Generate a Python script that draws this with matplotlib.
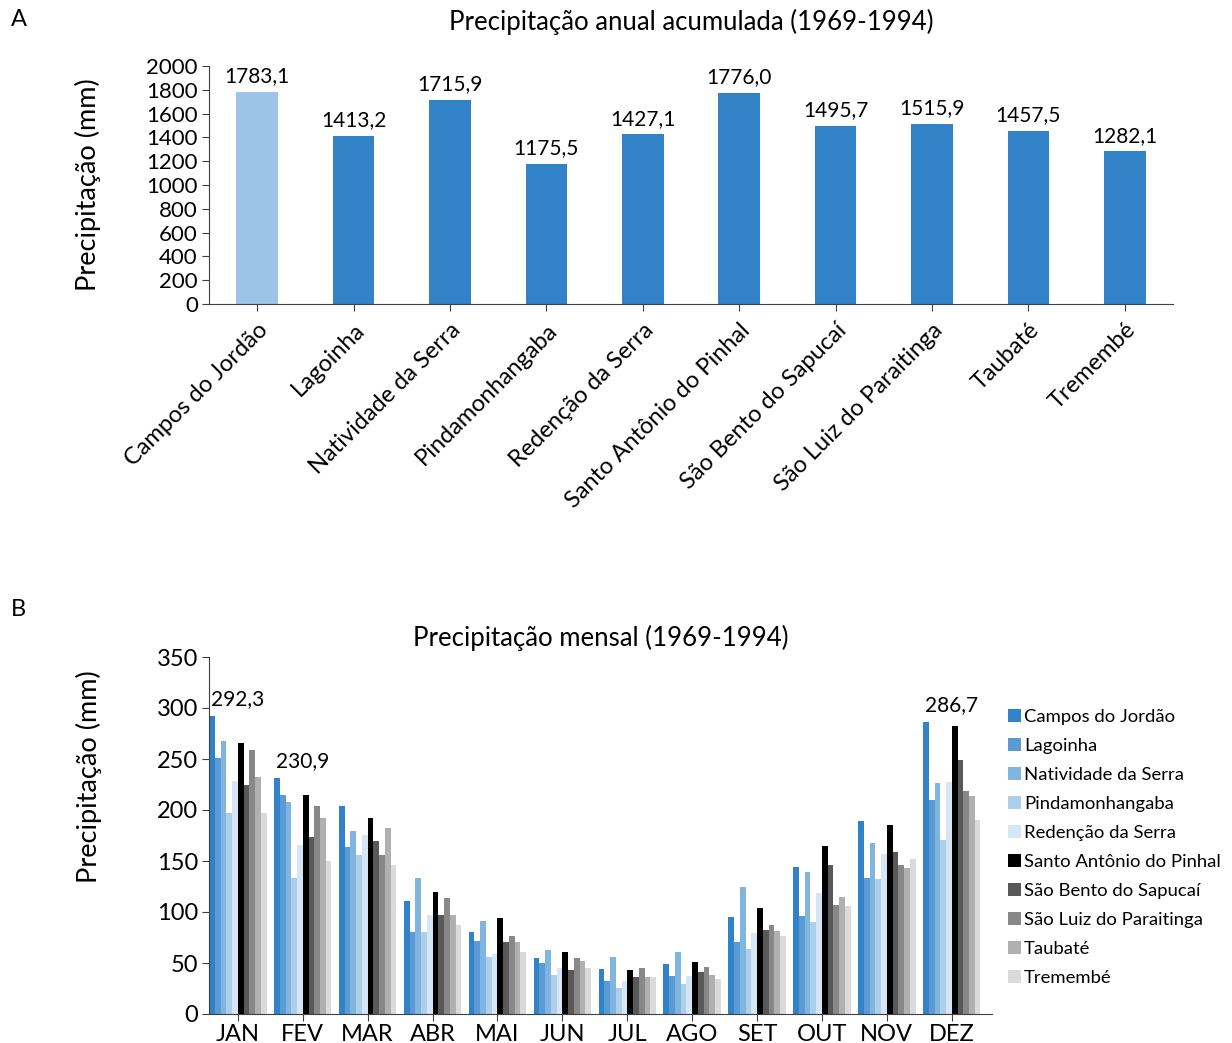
import numpy as np
import matplotlib
matplotlib.use("Agg")
import matplotlib.pyplot as plt

plt.rcParams['font.family'] = ['Lato', 'DejaVu Sans']

# ---- dados ----
stations = ['Campos do Jordão', 'Lagoinha', 'Natividade da Serra', 'Pindamonhangaba',
            'Redenção da Serra', 'Santo Antônio do Pinhal', 'São Bento do Sapucaí',
            'São Luiz do Paraitinga', 'Taubaté', 'Tremembé']
annual = [1783.1, 1413.2, 1715.9, 1175.5, 1427.1, 1776.0, 1495.7, 1515.9, 1457.5, 1282.1]

months = ['JAN', 'FEV', 'MAR', 'ABR', 'MAI', 'JUN', 'JUL', 'AGO', 'SET', 'OUT', 'NOV', 'DEZ']
campos = [292.3, 230.9, 204.2, 110.8, 80.4, 54.9, 44.1, 49.0, 95.1, 144.4, 189.5, 286.7]
lagoinha = [251.3, 215.0, 164.0, 80.4, 71.6, 50.0, 32.4, 37.3, 70.6, 96.4, 133.7, 210.1]
natividade = [268.0, 208.2, 179.7, 133.3, 91.2, 62.7, 55.9, 60.8, 124.5, 139.5, 168.0, 226.8]
pinda = [197.4, 133.7, 156.2, 80.4, 55.9, 38.2, 25.5, 29.4, 63.7, 90.5, 132.7, 170.9]
redencao = [228.8, 166.0, 175.8, 97.0, 58.8, 45.1, 32.4, 37.3, 79.4, 119.0, 157.2, 227.8]
santo_antonio = [266.0, 215.0, 192.5, 119.6, 94.1, 60.8, 43.1, 51.0, 103.9, 165.0, 185.6, 282.7]
sao_bento = [224.8, 173.9, 170.0, 97.0, 70.6, 43.1, 36.3, 41.2, 82.4, 146.4, 159.2, 249.3]
sao_luiz = [259.2, 204.2, 156.2, 113.7, 76.5, 54.9, 45.1, 46.1, 87.3, 107.2, 146.4, 219.0]
taubate = [232.7, 192.5, 182.7, 97.0, 70.6, 52.0, 36.3, 38.2, 81.4, 115.0, 143.5, 214.0]
tremembe = [197.4, 150.3, 146.4, 87.3, 60.8, 45.1, 36.3, 34.3, 76.5, 106.2, 152.3, 190.5]
monthly = [campos, lagoinha, natividade, pinda, redencao, santo_antonio,
           sao_bento, sao_luiz, taubate, tremembe]
labelled_months = [0, 1, 11]   # JAN, FEV, DEZ (Campos do Jordão)

top_colors = ['#9DC3E6'] + ['#3182C6'] * 9
month_colors = ['#3182C6', '#5B9BD5', '#80B5E0', '#AECFEA', '#D7E6F4',
                '#000000', '#595959', '#888888', '#B0B0B0', '#DADADA']

fs = 15
axis_col = '#404040'

fig = plt.figure(figsize=(12.32, 10.43), dpi=100)
W, H = 1232, 1043

# ---- A ----
ax1 = fig.add_axes([209 / W, 1 - 304 / H, (1173 - 209) / W, (304 - 66) / H])
x = np.arange(len(stations))
ax1.bar(x, annual, width=0.43, color=top_colors)
for xi, v in zip(x, annual):
    ax1.annotate(f'{v:.1f}'.replace('.', ','), (xi, v), xytext=(0, 4),
                 textcoords='offset points', ha='center', va='bottom', fontsize=fs)
ax1.set_xlim(-0.5, len(stations) - 0.5)
ax1.set_ylim(0, 2000)
ax1.set_yticks(np.arange(0, 2001, 200))
ax1.set_xticks(x)
ax1.set_xticklabels(stations, rotation=45, ha='right', rotation_mode='anchor')
ax1.tick_params(axis='y', labelsize=16, length=5, color=axis_col, pad=3)
ax1.tick_params(axis='x', labelsize=17, length=5, color=axis_col, pad=6)
ax1.set_ylabel('Precipitação (mm)', fontsize=19.5)
ax1.yaxis.set_label_coords(-0.112, 0.5)
ax1.set_title('Precipitação anual acumulada (1969-1994)', fontsize=18.5, pad=26)
for s in ['top', 'right']:
    ax1.spines[s].set_visible(False)
for s in ['left', 'bottom']:
    ax1.spines[s].set_color(axis_col)

# ---- B ----
ax2 = fig.add_axes([209 / W, 1 - 1014 / H, (992 - 209) / W, (1014 - 657) / H])
xm = np.arange(len(months))
n = len(monthly)
bw = 0.0885
for i, (name, vals, c) in enumerate(zip(stations, monthly, month_colors)):
    ax2.bar(xm + (i - (n - 1) / 2) * bw, vals, width=bw, color=c, label=name, linewidth=0)
for m in labelled_months:
    v = campos[m]
    ax2.annotate(f'{v:.1f}'.replace('.', ','), (xm[m], v), xytext=(0, 5),
                 textcoords='offset points', ha='center', va='bottom', fontsize=fs)
ax2.set_xlim(-0.445, 11.62)
ax2.set_ylim(0, 350)
ax2.set_yticks(np.arange(0, 351, 50))
ax2.set_xticks(xm)
ax2.set_xticklabels(months)
ax2.tick_params(labelsize=17, length=5, color=axis_col, pad=3)
ax2.tick_params(axis='x', pad=2)
ax2.set_ylabel('Precipitação (mm)', fontsize=19.5)
ax2.yaxis.set_label_coords(-0.137, 0.664)
ax2.set_title('Precipitação mensal (1969-1994)', fontsize=18.5, pad=8)
for s in ['top', 'right']:
    ax2.spines[s].set_visible(False)
for s in ['left', 'bottom']:
    ax2.spines[s].set_color(axis_col)

fig.legend(loc='upper left', bbox_to_anchor=(1001 / W, 1 - 702 / H), frameon=False,
           fontsize=13.3, handlelength=0.7, handleheight=0.7, handletextpad=0.15,
           labelspacing=0.7, borderaxespad=0)

fig.text(11 / W, 1 - 20 / H, 'A', fontsize=17, va='center')
fig.text(11 / W, 1 - 610 / H, 'B', fontsize=17, va='center')

fig.savefig('out.png', dpi=100)
